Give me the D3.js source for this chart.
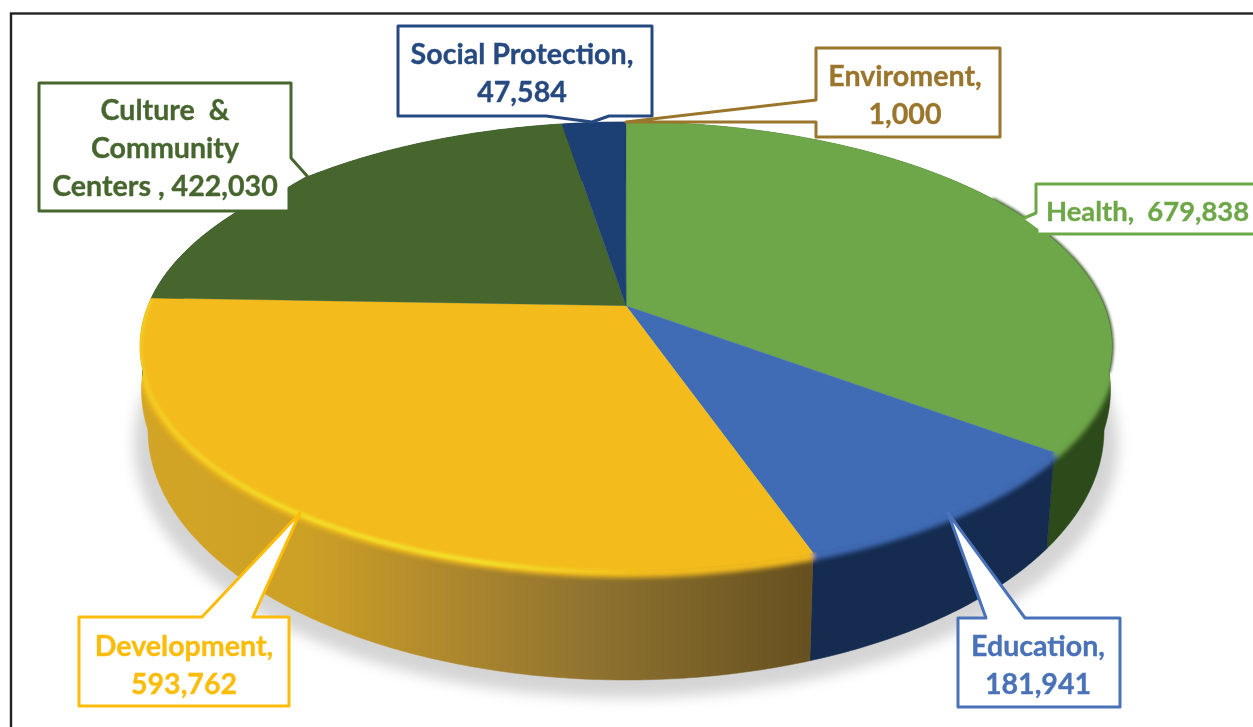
<!DOCTYPE html>
<html>
<head>
<meta charset="utf-8">
<style>
  html, body { margin: 0; padding: 0; background: #fff; overflow: hidden; }
  svg { display: block; }
  .callout text { font-family: Lato, "Open Sans", sans-serif; font-weight: 700; font-size: 28.6px; white-space: pre; stroke-width: 0.35px; }
</style>
</head>
<body>
<svg width="1253" height="727"></svg>
<script src="https://d3js.org/d3.v7.min.js"></script>
<script>
  var categories = ["Health", "Education", "Development", "Culture & Community Centers", "Social Protection", "Enviroment"];
  var values = [679838, 181941, 593762, 422030, 47584, 1000];
  var topColors = ["#6ea748", "#3f6cb5", "#f3bb1d", "#47662f", "#1b3f73", "#1b3f73"];
  var wallColors = ["#2d4a1a", "#152c50", "url(#wallYellow)", "#2d4a1a", "#152c50", "#152c50"];
  var labelLines = [
    ["Health,  679,838"],
    ["Education,", "181,941"],
    ["Development,", "593,762"],
    ["Culture  &", "Community", "Centers , 422,030"],
    ["Social Protection,", "47,584"],
    ["Enviroment,", "1,000"]
  ];
  var labelColors = ["#6ea748", "#4a72b8", "#fbbc0b", "#47662f", "#264a80", "#9a752c"];

  // callout outlines, same order as categories
  var calloutShapes = [
    [[1036, 184], [1270, 184], [1270, 234], [1037, 234], [1037, 230], [1022, 219], [1036, 213]],
    [[958, 618], [986, 618], [948, 513], [1025, 618], [1120, 618], [1120, 707], [958, 707]],
    [[79, 617], [202, 617], [300, 513], [253, 617], [289, 617], [289, 706], [79, 706]],
    [[39, 83], [291, 83], [291, 158], [308, 177], [289, 188], [289, 211], [39, 211]],
    [[398, 26], [652, 26], [652, 116], [609, 116], [592, 122], [546, 116], [398, 116]],
    [[816, 48], [1000, 48], [1000, 137], [816, 137], [816, 122], [626, 122], [816, 100]]
  ];
  var labelAnchors = [[1046, 221, "start"], [1038, 656, "middle"], [184, 656, "middle"], [165, 120, "middle"], [522, 64, "middle"], [905, 86, "middle"]];
  var lineStep = 38;

  var svg = d3.select("svg");
  var defs = svg.append("defs");

  // top face and base of the disc are two ellipses, t moves the apex for the perspective
  var t = -0.18;
  var xTop = d3.scaleLinear().domain([-1, 1]).range([140, 1112]);
  var yTop = d3.scaleLinear().domain([-1, 1]).range([122, 570]);
  var rBase = d3.scaleLinear().domain([-0.6, 0]).range([526, 478]).clamp(true);
  var yBase = d3.scaleLinear().domain([-1, 1]).range([180, 680]);

  function unit(a) {
    var u = Math.sin(a), v = -Math.cos(a), d = 1 + t * v;
    return [u * Math.sqrt(1 - t * t) / d, (v + t) / d];
  }
  function sample(a0, a1) {
    var n = Math.max(2, Math.ceil((a1 - a0) / 0.01));
    return d3.range(n + 1).map(function(i) { return unit(a0 + (a1 - a0) * i / n); });
  }
  function onTop(p) { return [xTop(p[0]), yTop(p[1])]; }
  function onBase(p) { return [626 + p[0] * rBase(p[1]), yBase(p[1])]; }

  var line = d3.line();
  var slices = d3.pie().sort(null).startAngle(0).endAngle(2 * Math.PI)(values);

  function blur(id, dev) {
    defs.append("filter").attr("id", id)
      .attr("x", "-10%").attr("y", "-10%").attr("width", "120%").attr("height", "120%")
      .append("feGaussianBlur").attr("stdDeviation", dev);
  }
  blur("shadowBlur", 7);
  blur("bevelBlur", 2.4);
  blur("glowBlur", 1.4);
  blur("faceBlur", 0.7);

  var wallYellow = defs.append("linearGradient").attr("id", "wallYellow")
    .attr("gradientUnits", "userSpaceOnUse")
    .attr("x1", 140).attr("x2", 812).attr("y1", 0).attr("y2", 0);
  [[0, "#d3a526"], [0.25, "#cca025"], [0.42, "#b48c2c"], [0.68, "#8e7230"], [1, "#66501f"]].forEach(function(s) {
    wallYellow.append("stop").attr("offset", s[0]).attr("stop-color", s[1]);
  });
  var glow = defs.append("linearGradient").attr("id", "glowYellow")
    .attr("gradientUnits", "userSpaceOnUse")
    .attr("x1", 140).attr("x2", 690).attr("y1", 0).attr("y2", 0);
  [[0, "#f3d222", 0.7], [0.25, "#f1dc28", 1], [0.62, "#f2e22a", 1], [0.85, "#f4cf1e", 0.6], [1, "#f3bb1d", 0]].forEach(function(s) {
    glow.append("stop").attr("offset", s[0]).attr("stop-color", s[1]).attr("stop-opacity", s[2]);
  });

  function wallPath(d) {
    var pts = sample(d.startAngle, d.endAngle);
    return line(pts.map(onTop).concat(pts.slice().reverse().map(onBase))) + "Z";
  }
  function facePath(d) {
    return line([onTop([0, t])].concat(sample(d.startAngle, d.endAngle).map(onTop))) + "Z";
  }
  function edgePath(d) {
    return line(sample(d.startAngle, d.endAngle).map(onTop));
  }

  var clip = defs.append("clipPath").attr("id", "disc");
  slices.forEach(function(d) {
    clip.append("path").attr("d", wallPath(d));
    clip.append("path").attr("d", facePath(d));
  });

  // frame
  svg.append("rect").attr("x", 11).attr("y", 13.5).attr("width", 1400).attr("height", 900)
    .attr("fill", "#fff").attr("stroke", "#222").attr("stroke-width", 2.4);

  // shadow under the disc
  svg.append("ellipse").attr("cx", 626).attr("cy", 444).attr("rx", 492).attr("ry", 254)
    .attr("fill", "#d4d4d4").attr("filter", "url(#shadowBlur)");

  svg.append("g").selectAll("path").data(slices).enter().append("path")
    .attr("d", wallPath)
    .attr("fill", function(d, i) { return wallColors[i]; })
    .attr("stroke", function(d, i) { return wallColors[i]; })
    .attr("stroke-width", 0.5);

  // soft bevel between the face and the wall
  var bevel = svg.append("g").attr("clip-path", "url(#disc)").append("g").attr("filter", "url(#bevelBlur)");
  bevel.selectAll("path").data(slices).enter().append("path")
    .attr("d", edgePath)
    .attr("fill", "none")
    .attr("transform", "translate(0,2)")
    .attr("stroke", function(d, i) { return topColors[i]; })
    .attr("stroke-width", 11);

  // dark fringe on the right rim of the green slice
  svg.append("path")
    .attr("d", line(sample(1.0, slices[0].endAngle - 0.35).map(onTop)))
    .attr("fill", "none")
    .attr("stroke", "#2d4a1a")
    .attr("stroke-width", 3)
    .attr("filter", "url(#glowBlur)");

  svg.append("g").attr("filter", "url(#faceBlur)").selectAll("path").data(slices).enter().append("path")
    .attr("d", facePath)
    .attr("fill", function(d, i) { return topColors[i]; })
    .attr("stroke", function(d, i) { return topColors[i]; })
    .attr("stroke-width", 0.3);

  // yellow highlight along the development rim
  svg.append("g").attr("clip-path", "url(#disc)").append("path").datum(slices[2])
    .attr("d", edgePath)
    .attr("fill", "none")
    .attr("transform", "translate(0,2)")
    .attr("stroke", "url(#glowYellow)")
    .attr("stroke-width", 4.5)
    .attr("filter", "url(#glowBlur)");

  // callouts
  var callouts = svg.append("g").selectAll("g").data(categories).enter().append("g")
    .attr("class", "callout");
  callouts.append("path")
    .attr("d", function(d, i) { return line(calloutShapes[i]) + "Z"; })
    .attr("fill", "#fff")
    .attr("stroke", function(d, i) { return labelColors[i]; })
    .attr("stroke-width", 3)
    .attr("stroke-linejoin", "round");
  callouts.each(function(d, i) {
    d3.select(this).selectAll("text").data(labelLines[i]).enter().append("text")
      .attr("x", labelAnchors[i][0])
      .attr("y", function(s, j) { return labelAnchors[i][1] + j * lineStep; })
      .attr("text-anchor", labelAnchors[i][2])
      .attr("fill", labelColors[i])
      .attr("stroke", labelColors[i])
      .style("font-size", i == 0 ? "27.4px" : null)
      .text(function(s) { return s; });
  });
</script>
</body>
</html>
